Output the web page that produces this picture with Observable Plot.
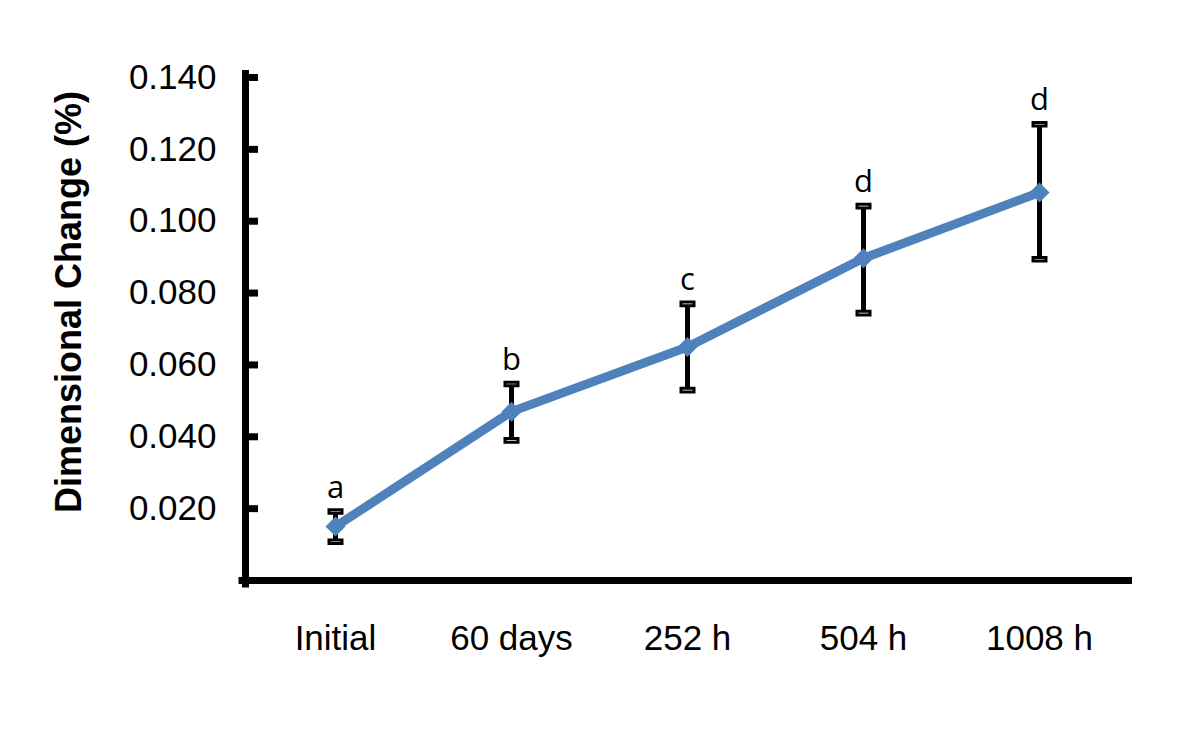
<!DOCTYPE html>
<html>
<head>
<meta charset="utf-8">
<script src="https://cdn.jsdelivr.net/npm/d3@7"></script>
<script src="https://cdn.jsdelivr.net/npm/@observablehq/plot@0.6"></script>
<style>
  html, body { margin: 0; padding: 0; background: #fff; }
  #chart svg { display: block; }
</style>
</head>
<body>
<div id="chart"></div>
<script>
const categories = ["Initial", "60 days", "252 h", "504 h", "1008 h"];
const means = [0.015, 0.047, 0.065, 0.0897, 0.108];
const lows = [0.0108, 0.039, 0.053, 0.0744, 0.0894];
const highs = [0.0192, 0.0547, 0.077, 0.1042, 0.127];
const letters = ["a", "b", "c", "d", "d"];
const yTicks = [0.02, 0.04, 0.06, 0.08, 0.10, 0.12, 0.14];
const yTitle = "Dimensional Change (%)";

const data = categories.map((c, i) => ({cat: c, mean: means[i], lo: lows[i], hi: highs[i], letter: letters[i]}));

const blue = "#4f81bd";
const capSymbol = {
  draw(ctx, size) {
    const s = Math.sqrt(size / Math.PI);
    ctx.rect(-s, -s * 0.28, 2 * s, s * 0.56);
  }
};

const chart = Plot.plot({
  width: 1200,
  height: 729,
  marginLeft: 245,
  marginRight: 72,
  marginTop: 77,
  marginBottom: 149,
  style: {background: "#fff", fontFamily: "'Liberation Sans', Arial, sans-serif"},
  x: {type: "band", domain: categories, padding: 0},
  y: {domain: [0, 0.14]},
  marks: [
    Plot.axisX({tickSize: 0, tickPadding: 45, fontSize: 35, label: null, fill: "#000"}),
    Plot.axisY({ticks: yTicks, tickSize: 0, tickPadding: 29, fontSize: 35, label: null,
      tickFormat: d3.format(".3f"), fill: "#000"}),
    Plot.axisY({ticks: yTicks, tickSize: 13, dx: 13, strokeWidth: 7, stroke: "#000",
      tickFormat: () => "", label: null}),
    Plot.frame({anchor: "left", stroke: "#000", strokeWidth: 7, insetTop: -4, insetBottom: -3.5}),
    Plot.frame({anchor: "bottom", stroke: "#000", strokeWidth: 7, insetLeft: -3.5}),
    Plot.text([yTitle], {frameAnchor: "left", dx: -176, dy: -27, rotate: -90,
      fontSize: 36, fontWeight: "bold", fill: "#000", textAnchor: "middle", lineAnchor: "middle"}),
    Plot.ruleX(data, {x: "cat", y1: "lo", y2: "hi", stroke: "#000", strokeWidth: 5}),
    Plot.dot(data, {x: "cat", y: "hi", symbol: capSymbol, r: 6.5, stroke: "#000", strokeWidth: 3, fill: "#fff"}),
    Plot.dot(data, {x: "cat", y: "lo", symbol: capSymbol, r: 6.5, stroke: "#000", strokeWidth: 3, fill: "#fff"}),
    Plot.line(data, {x: "cat", y: "mean", stroke: blue, strokeWidth: 9, strokeLinejoin: "round"}),
    Plot.dot(data, {x: "cat", y: "mean", symbol: "diamond2", r: 9, fill: blue, stroke: null}),
    Plot.text(data, {x: "cat", y: "hi", text: "letter", lineAnchor: "bottom", dy: -14,
      fontSize: 31, fontFamily: "'Open Sans', sans-serif", fill: "#000"})
  ]
});
document.getElementById("chart").appendChild(chart);
</script>
</body>
</html>
